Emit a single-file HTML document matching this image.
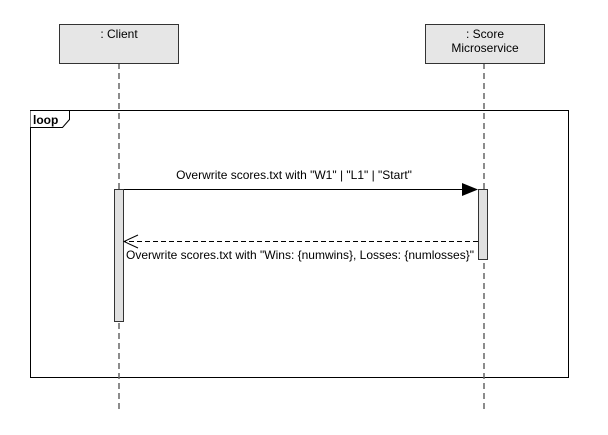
<!DOCTYPE html>
<html><head><meta charset="utf-8"><style>
body{margin:0;background:#fff;}
svg{display:block;font-family:"Liberation Sans",Arial,sans-serif;}
</style></head><body>
<svg width="608" height="435" viewBox="0 0 608 435">
<rect x="0" y="0" width="608" height="435" fill="#fff"/>
<g>
<rect x="30.5" y="110.5" width="538" height="267" fill="none" stroke="#000" stroke-width="1"/>
<path d="M30.5 110.5 H69.5 V119.5 L62.5 127.5 H30.5" fill="#fff" stroke="#000"/>
<text x="33" y="124" font-size="12" font-weight="bold" fill="#000">loop</text>
</g>
<line x1="119" y1="63" x2="119" y2="410" stroke="#666" stroke-width="1.5" stroke-dasharray="6,4"/>
<line x1="484" y1="63" x2="484" y2="410" stroke="#666" stroke-width="1.5" stroke-dasharray="6,4"/>
<g>
<rect x="59.5" y="24.5" width="119" height="39" fill="#e6e6e6" stroke="#333" stroke-width="1"/>
<text x="119" y="38" font-size="12" text-anchor="middle" fill="#000">: Client</text>
</g>
<g>
<rect x="425.5" y="24.5" width="119" height="39" fill="#e6e6e6" stroke="#333" stroke-width="1"/>
<text x="485" y="38" font-size="12" text-anchor="middle" fill="#000">: Score</text>
<text x="485" y="52" font-size="12" text-anchor="middle" fill="#000">Microservice</text>
</g>
<rect x="114.5" y="189.5" width="9" height="132" fill="#e0e0e0" stroke="#333"/>
<rect x="478.5" y="189.5" width="9" height="70" fill="#e0e0e0" stroke="#333"/>
<g>
<line x1="124" y1="189.5" x2="464" y2="189.5" stroke="#000" stroke-width="1"/>
<polygon points="462,183 478,189.5 462,196" fill="#000"/>
<text x="294" y="179" font-size="12" text-anchor="middle" fill="#000">Overwrite scores.txt with "W1" | "L1" | "Start"</text>
</g>
<g>
<line x1="478" y1="241.5" x2="125" y2="241.5" stroke="#000" stroke-width="1" stroke-dasharray="5,3"/>
<polyline points="138,235 124,241.5 138,248" fill="none" stroke="#000"/>
<text x="300" y="259" font-size="12" text-anchor="middle" fill="#000">Overwrite scores.txt with "Wins: {numwins}, Losses: {numlosses}"</text>
</g>
</svg>
</body></html>
